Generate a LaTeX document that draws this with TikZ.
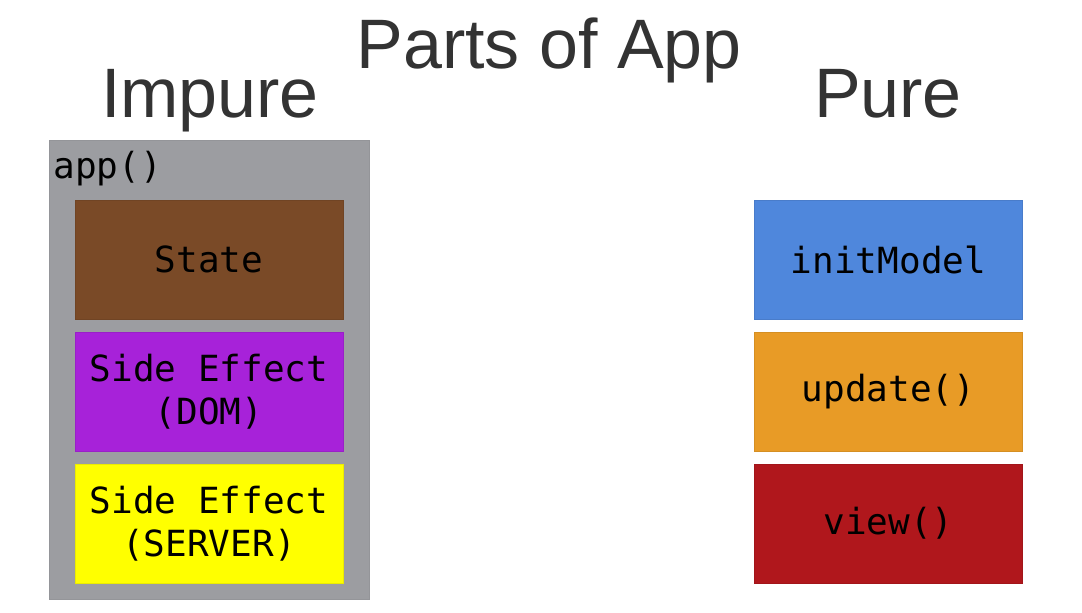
\documentclass[tikz,border=0pt]{standalone}
\usepackage{fontspec}
\setmainfont{Liberation Sans}
\setmonofont{DejaVu Sans Mono}
\usetikzlibrary{positioning}

\definecolor{appgray}{HTML}{9C9DA1}
\definecolor{statebrown}{HTML}{7A4A27}
\definecolor{dompurple}{HTML}{A722D9}
\definecolor{serveryellow}{HTML}{FFFF00}
\definecolor{initblue}{HTML}{4F87DC}
\definecolor{updateorange}{HTML}{E89B26}
\definecolor{viewred}{HTML}{B0171C}
\definecolor{headtext}{HTML}{333333}

\tikzset{
    part/.style={draw=#1!92!black, fill=#1, line width=0.4pt,
        minimum width=134pt, minimum height=59.5pt,
        inner sep=0pt, outer sep=0pt, align=center,
        font=\fontsize{18}{21.5}\selectfont\ttfamily},
    heading/.style={anchor=base, inner sep=0pt, text=headtext,
        font=\fontsize{35}{40}\selectfont}
}

\begin{document}
\begin{tikzpicture}[x=0.5pt, y=-0.5pt, node distance=6.5pt]
    \useasboundingbox (0,0) rectangle (1082,612);

    % Headings
    \node[heading] (title) at (549,68) {Parts of App};
    \node[heading] (impure) at (210,117) {Impure};
    \node[heading] (pure) at (888,117) {Pure};

    % Impure side: app() wrapper
    \node[fill=appgray, draw=appgray!95!black, line width=0.4pt,
          minimum width=160pt, minimum height=229.5pt, outer sep=0pt] (app) at (209,369.5) {};
    \node[anchor=base west, inner sep=0pt, font=\fontsize{18}{21.5}\selectfont\ttfamily]
        (applabel) at (53,178) {app()};

    \node[part=statebrown] (state) at (209,259.5) {State};
    \node[part=dompurple, below=of state] (dom) {Side Effect\\(DOM)};
    \node[part=serveryellow, below=of dom] (server) {Side Effect\\(SERVER)};

    % Pure side
    \node[part=initblue] (initmodel) at (888.5,259.5) {initModel};
    \node[part=updateorange, below=of initmodel] (update) {update()};
    \node[part=viewred, below=of update] (view) {view()};

\end{tikzpicture}
\end{document}
